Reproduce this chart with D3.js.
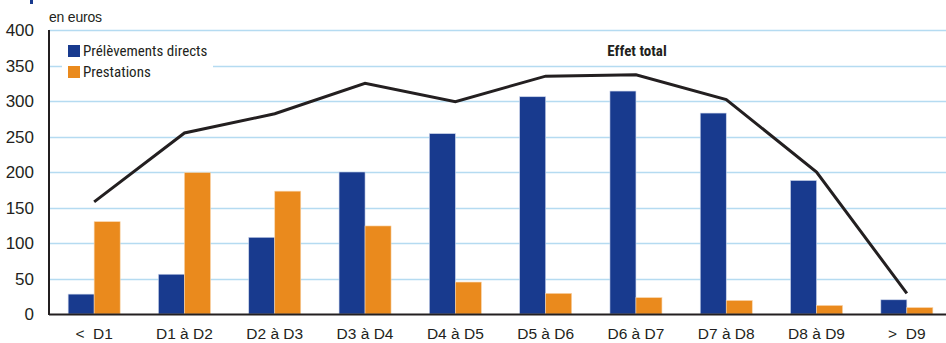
<!DOCTYPE html>
<html><head><meta charset="utf-8">
<script src="https://cdn.jsdelivr.net/npm/d3@7"></script>
<style>
body{margin:0;background:#fff;}
text{font-family:"Liberation Sans Narrow","Arial Narrow","Roboto Condensed","Liberation Sans",sans-serif;fill:#231f20;}
text.reg{font-family:"Liberation Sans",Arial,sans-serif;}
</style></head>
<body><svg id="c" width="946" height="343"></svg>
<script>
const categories = ["< D1","D1 à D2","D2 à D3","D3 à D4","D4 à D5","D5 à D6","D6 à D7","D7 à D8","D8 à D9","> D9"];
const prelevements = [28, 56, 108, 200, 254, 306, 314, 283, 188, 20];
const prestations = [130, 199, 173, 124, 45, 29, 23, 19, 12, 9];
const effetTotal = [158, 255, 282, 325, 299, 335, 337, 302, 200, 29];
const yTicks = [0, 50, 100, 150, 200, 250, 300, 350, 400];
const seriesNames = ["Prélèvements directs", "Prestations"];
const lineName = "Effet total";
const unitLabel = "en euros";

const blue = "#183a8e", orange = "#ea8a1d", grid = "#b5dbf1", ink = "#231f20";
const svg = d3.select("#c");
const x0 = 49, x1 = 952, yTop = 30, yBot = 314;
const x = d3.scaleBand().domain(categories).range([x0, x1]).padding(0);
const y = d3.scaleLinear().domain([0, 400]).range([yBot, yTop]);
const bw = 26;

// small cropped title mark
svg.append("rect").attr("x", 30).attr("y", 0).attr("width", 3).attr("height", 4).attr("fill", blue);

// grid
svg.append("g").selectAll("line").data(yTicks.filter(d => d > 0)).join("line")
  .attr("x1", x0).attr("x2", 946).attr("y1", d => Math.round(y(d)) + 0.5).attr("y2", d => Math.round(y(d)) + 0.5)
  .attr("stroke", grid).attr("stroke-width", 1.5);

// y tick labels
svg.append("g").selectAll("text").data(yTicks).join("text").attr("class", "reg")
  .attr("x", 34).attr("y", d => y(d) + 6).attr("text-anchor", "end")
  .attr("font-size", 17).text(d => d);

svg.append("text").attr("class", "reg").attr("x", 49).attr("y", 22).attr("font-size", 14).attr("textLength", 53).text(unitLabel);

// bars
const g = svg.append("g");
g.selectAll("rect.b").data(categories).join("rect").attr("class", "b")
  .attr("x", d => x(d) + x.bandwidth() / 2 - bw).attr("width", bw)
  .attr("y", (d, i) => y(prelevements[i])).attr("height", (d, i) => yBot - y(prelevements[i]))
  .attr("fill", blue).attr("stroke", "#c9d3ea").attr("stroke-width", 0.6);
g.selectAll("rect.o").data(categories).join("rect").attr("class", "o")
  .attr("x", d => x(d) + x.bandwidth() / 2).attr("width", bw)
  .attr("y", (d, i) => y(prestations[i])).attr("height", (d, i) => yBot - y(prestations[i]))
  .attr("fill", orange).attr("stroke", "#f8d3a8").attr("stroke-width", 0.6);

// line
const line = d3.line().x((d, i) => x(categories[i]) + x.bandwidth() / 2).y(d => y(d));
svg.append("path").datum(effetTotal).attr("d", line).attr("fill", "none")
  .attr("stroke", ink).attr("stroke-width", 3);

svg.append("text").attr("x", 637).attr("y", 56).attr("text-anchor", "middle")
  .attr("font-size", 15).attr("font-weight", "bold").text(lineName);

// axes lines
svg.append("line").attr("x1", x0).attr("x2", x0).attr("y1", yTop).attr("y2", yBot + 1).attr("stroke", ink).attr("stroke-width", 2);
svg.append("line").attr("x1", x0).attr("x2", 946).attr("y1", yBot + 0.5).attr("y2", yBot + 0.5).attr("stroke", ink).attr("stroke-width", 2);

// x labels
svg.append("g").selectAll("text").data(categories).join("text").attr("class", "reg")
  .attr("x", d => x(d) + x.bandwidth() / 2).attr("y", 339).attr("text-anchor", "middle")
  .attr("font-size", 15.5).text(d => d.replace("< ", "<  ").replace("> ", ">  "))
  .attr("xml:space", "preserve").style("white-space", "pre");

// legend
svg.append("rect").attr("x", 62).attr("y", 38).attr("width", 151).attr("height", 48).attr("fill", "#fff");
const lg = svg.append("g").selectAll("g").data(seriesNames).join("g")
  .attr("transform", (d, i) => `translate(68,${45 + i * 21})`);
lg.append("rect").attr("width", 12).attr("height", 12).attr("fill", (d, i) => i ? orange : blue);
lg.append("text").attr("x", 15).attr("y", 11).attr("font-size", 15).text(d => d);
</script></body></html>
